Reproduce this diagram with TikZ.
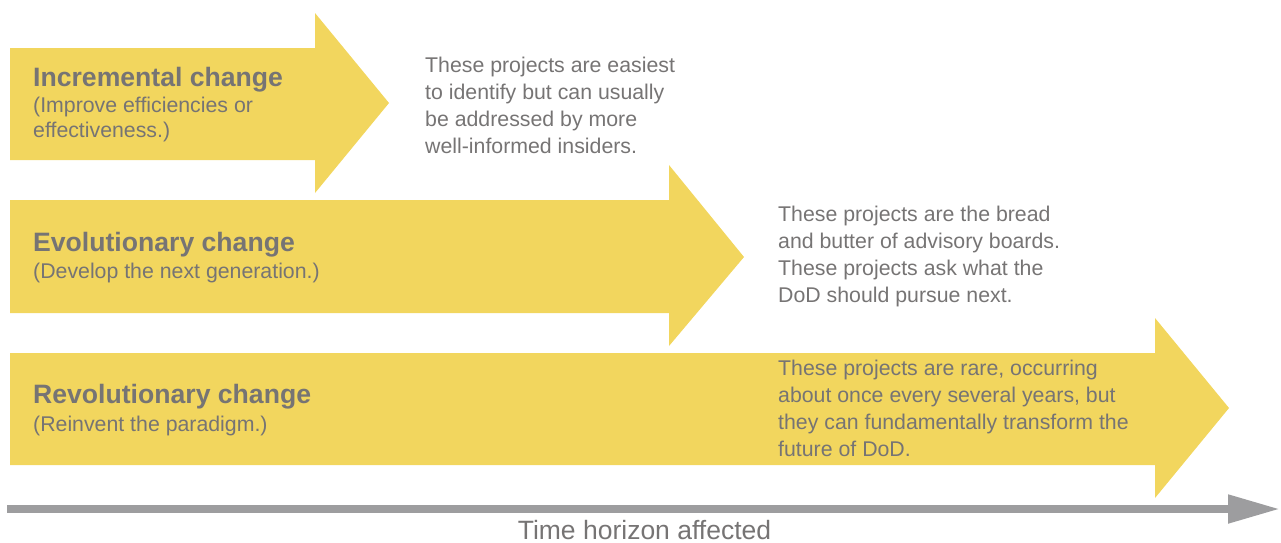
\documentclass[tikz,border=0pt]{standalone}
\usepackage{fontspec}
\setmainfont{Liberation Sans}
\usetikzlibrary{arrows.meta}
\definecolor{barfill}{HTML}{F2D65E}
\definecolor{txtgray}{HTML}{767474}
\definecolor{axisgray}{HTML}{9D9D9F}
\begin{document}
\begin{tikzpicture}[x=1pt,y=-1pt,
    heading/.style={anchor=base west,inner sep=0pt,text=txtgray,
      font=\fontsize{26.6}{30}\selectfont\bfseries},
    sub/.style={anchor=base west,inner sep=0pt,text=txtgray,align=left,
      font=\fontsize{21.3}{24.7}\selectfont},
    note/.style={anchor=base west,inner sep=0pt,text=txtgray,align=left,
      font=\fontsize{21.3}{26.8}\selectfont},
    axis/.style={draw=axisgray,line width=8pt,-{Triangle[length=52pt,width=27pt]}}]
    \useasboundingbox (0,0) rectangle (1281,542);
    % the three block arrows
    \fill[barfill] (10,48) -- (315,48) -- (315,13) -- (389,103) -- (315,193) -- (315,160) -- (10,160) -- cycle;
    \fill[barfill] (10,200) -- (669,200) -- (669,165) -- (744,257) -- (669,346) -- (669,313) -- (10,313) -- cycle;
    \fill[barfill] (10,353) -- (1155,353) -- (1155,318) -- (1229,408) -- (1155,498) -- (1155,465) -- (10,465) -- cycle;
    % labels on the arrows (base = last line)
    \node[heading] (inc) at (33,86) {Incremental change};
    \node[sub] (incsub) at (33,137) {(Improve efficiencies or\\effectiveness.)};
    \node[heading] (evo) at (33,251) {Evolutionary change};
    \node[sub] (evosub) at (33,278) {(Develop the next generation.)};
    \node[heading] (rev) at (33,403) {Revolutionary change};
    \node[sub] (revsub) at (33,431) {(Reinvent the paradigm.)};
    % notes
    \node[note] (incnote) at (425,153) {These projects are easiest\\to identify but can usually\\be addressed by more\\well-informed insiders.};
    \node[note] (evonote) at (778,302) {These projects are the bread\\and butter of advisory boards.\\These projects ask what the\\DoD should pursue next.};
    \node[note] (revnote) at (778,456) {These projects are rare, occurring\\about once every several years, but\\they can fundamentally transform the\\future of DoD.};
    % time axis
    \coordinate (t0) at (7,509);
    \coordinate (t1) at (1280,509);
    \draw[axis] (t0) -- (t1);
    \node[anchor=base,inner sep=0pt,text=txtgray,font=\fontsize{26.5}{30}\selectfont] (horizon) at (644.5,539) {Time horizon affected};
\end{tikzpicture}
\end{document}
